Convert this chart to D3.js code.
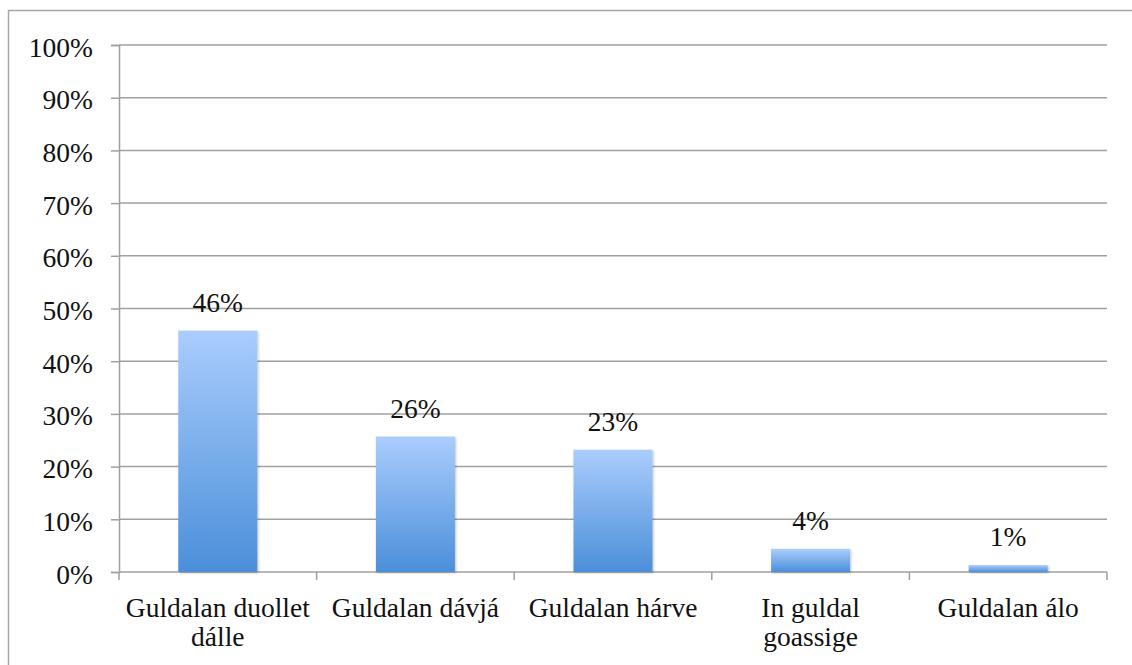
<!DOCTYPE html>
<html>
<head>
<meta charset="utf-8">
<script src="https://cdn.jsdelivr.net/npm/d3@7"></script>
<style>
  body { margin: 0; background: #fff; }
  text { font-family: "Liberation Serif", "DejaVu Serif", serif; fill: #111; }
</style>
</head>
<body>
<svg id="chart" width="1132" height="665"></svg>
<script>
const categories = [
  ["Guldalan duollet", "dálle"],
  ["Guldalan dávjá"],
  ["Guldalan hárve"],
  ["In guldal", "goassige"],
  ["Guldalan álo"]
];
const values = [45.8, 25.7, 23.2, 4.4, 1.3];
const valueLabels = ["46%", "26%", "23%", "4%", "1%"];
const yTicks = [0, 10, 20, 30, 40, 50, 60, 70, 80, 90, 100];

const width = 1132, height = 665;
const margins = { top: 45, right: 25, bottom: 93, left: 119 };
const fontSize = "27.5px";

const svg = d3.select("#chart");

//* outer frame
svg.append("rect")
  .attr("x", 8.5).attr("y", 10.5)
  .attr("width", 1140).attr("height", 700)
  .attr("fill", "none")
  .attr("stroke", "#a6a6a6")
  .attr("stroke-width", 1.5);

const defs = svg.append("defs");
const grad = defs.append("linearGradient")
  .attr("id", "barGrad")
  .attr("x1", 0).attr("y1", 0).attr("x2", 0).attr("y2", 1);
grad.append("stop").attr("offset", "0%").attr("stop-color", "#aacdfd");
grad.append("stop").attr("offset", "100%").attr("stop-color", "#4b8fd9");

const shadow = defs.append("filter").attr("id", "shadow")
  .attr("x", "-10%").attr("y", "-10%").attr("width", "130%").attr("height", "130%");
shadow.append("feDropShadow")
  .attr("dx", 1).attr("dy", 1).attr("stdDeviation", 1.2)
  .attr("flood-color", "#000").attr("flood-opacity", 0.25);

const x = d3.scaleBand()
  .domain(d3.range(categories.length))
  .range([margins.left, width - margins.right])
  .paddingInner(0.6).paddingOuter(0.3);

const xBand = d3.scaleBand()
  .domain(d3.range(categories.length))
  .range([margins.left, width - margins.right]);

const y = d3.scaleLinear()
  .domain([0, 100])
  .range([height - margins.bottom, margins.top]);

//* gridlines + y axis
const yAxis = svg.append("g")
  .attr("transform", `translate(${margins.left},0)`)
  .call(d3.axisLeft(y)
    .tickValues(yTicks)
    .tickSize(8)
    .tickFormat(d => d + "%"));
yAxis.select(".domain").attr("stroke", "#a0a0a0").attr("stroke-width", 1.5);
yAxis.selectAll(".tick line").attr("stroke", "#a0a0a0").attr("stroke-width", 1.5);
yAxis.selectAll(".tick text")
  .attr("x", -26)
  .attr("dy", "0.4em")
  .style("font-size", fontSize)
  .attr("fill", "#111");

svg.append("g")
  .selectAll("line")
  .data(yTicks)
  .join("line")
  .attr("x1", margins.left).attr("x2", width - margins.right)
  .attr("y1", d => y(d)).attr("y2", d => y(d))
  .attr("stroke", "#a0a0a0")
  .attr("stroke-width", 1.5);

//* x axis ticks at category boundaries
const bounds = d3.range(categories.length + 1).map(i =>
  i < categories.length ? xBand(i) : xBand(i - 1) + xBand.bandwidth());
svg.append("g")
  .selectAll("line")
  .data(bounds)
  .join("line")
  .attr("x1", d => d).attr("x2", d => d)
  .attr("y1", y(0)).attr("y2", y(0) + 8)
  .attr("stroke", "#a0a0a0")
  .attr("stroke-width", 1.5);

//* bars
svg.append("g")
  .selectAll("rect")
  .data(values)
  .join("rect")
  .attr("x", (d, i) => x(i))
  .attr("y", d => y(d))
  .attr("width", x.bandwidth())
  .attr("height", d => y(0) - y(d))
  .attr("fill", "url(#barGrad)")
  .attr("filter", "url(#shadow)");

//* value labels
svg.append("g")
  .selectAll("text")
  .data(values)
  .join("text")
  .attr("x", (d, i) => x(i) + x.bandwidth() / 2)
  .attr("y", d => y(d) - 19)
  .attr("text-anchor", "middle")
  .style("font-size", fontSize)
  .text((d, i) => valueLabels[i]);

//* category labels
const cat = svg.append("g")
  .selectAll("text")
  .data(categories)
  .join("text")
  .attr("x", (d, i) => xBand(i) + xBand.bandwidth() / 2)
  .attr("y", y(0) + 45)
  .attr("text-anchor", "middle")
  .style("font-size", fontSize);
cat.selectAll("tspan")
  .data(d => d)
  .join("tspan")
  .attr("x", function () { return this.parentNode.getAttribute("x"); })
  .attr("dy", (d, i) => i === 0 ? 0 : 29)
  .text(d => d);
</script>
</body>
</html>
